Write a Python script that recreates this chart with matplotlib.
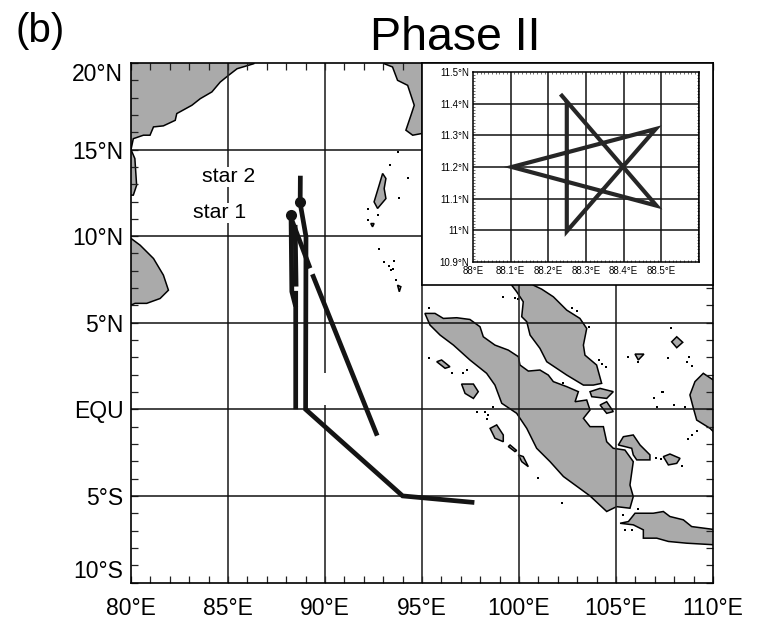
import matplotlib
matplotlib.use("Agg")
import matplotlib.pyplot as plt
from matplotlib.patches import Polygon

plt.rcParams['font.family'] = ['Liberation Sans', 'DejaVu Sans']

W, H = 759, 623
LAND = '#aaaaaa'
TRACK = '#141414'

# coastlines, lon/lat
india = [(79.5, 12.37), (80.12, 12.37), (80.29, 12.94), (80.2, 14.48), (80, 15), (80.12, 15.63),
         (80.64, 15.83), (80.98, 15.83), (81.16, 16.31), (81.67, 16.37), (82.28, 16.69), (82.36, 17.08),
         (83.14, 17.56), (83.57, 17.94), (84.17, 18.33), (84.6, 18.9), (85.03, 19.29), (85.47, 19.67),
         (86.33, 19.96), (86.5, 20.5), (79.5, 20.5)]
sri_lanka = [(80, 9.87), (80.47, 9.48), (81.16, 8.71), (81.67, 7.75), (81.93, 6.88), (81.5, 6.4),
             (80.81, 6.12), (80.21, 6.12), (80, 6.02), (79.5, 6.02), (79.5, 9.87)]
mainland = [(93.05, 19.96), (93.48, 19.77), (93.74, 19.0), (94.26, 18.71), (94.6, 17.56), (94.43, 16.98),
            (94.17, 16.12), (94.52, 15.83), (94.95, 15.92), (97, 16), (98, 14), (98.7, 11), (98.5, 9),
            (99.62, 7.17), (99.88, 6.79), (100.22, 6.21), (100.14, 5.35), (100.4, 5.06), (100.57, 4.29),
            (101.08, 3.52), (101.43, 2.75), (102.46, 1.98), (103.32, 1.4), (103.83, 1.4), (104.26, 1.5),
            (104.0, 2.56), (103.4, 3.13), (103.32, 3.71), (103.49, 4.67), (103.14, 5.25), (102.46, 5.73),
            (101.77, 6.5), (101.17, 6.94), (100.74, 7.17), (102, 12), (100, 20.5), (93, 20.5)]
sumatra = [(95.15, 5.54), (95.67, 5.54), (96.1, 5.25), (96.79, 5.29), (97.47, 5.19), (97.99, 4.77),
           (98.16, 4.19), (98.76, 3.71), (99.45, 3.42), (99.97, 3.04), (100.05, 2.56), (100.48, 2.21),
           (101.08, 2.27), (101.51, 1.98), (101.77, 1.6), (102.46, 1.31), (103.06, 1.02), (102.89, 0.44),
           (103.49, 0.54), (103.66, -0.04), (103.32, -0.52), (103.66, -1.0), (104.35, -1.0), (104.52, -1.87),
           (104.86, -2.25), (105.46, -2.35), (105.89, -3.02), (105.72, -4.37), (105.89, -5.04), (105.72, -5.71),
           (105.03, -5.62), (104.52, -5.9), (103.66, -5.0), (102.29, -3.88), (101.6, -3.02), (100.91, -2.25),
           (100.4, -1.1), (99.88, -0.23), (99.11, 0.35), (98.76, 1.4), (98.33, 2.08), (97.47, 2.85),
           (96.62, 3.71), (95.93, 4.29), (95.41, 4.87)]
java = [(105.21, -6.58), (105.64, -6.48), (105.98, -6.0), (106.92, -6.0), (107.44, -5.9), (107.78, -6.19),
        (108.47, -6.38), (108.9, -6.77), (110.2, -6.96), (110.2, -7.83), (108.64, -7.73), (107.7, -7.63),
        (107.1, -7.44), (106.41, -7.44), (106.41, -6.96), (105.89, -6.67)]
borneo = [(110.02, 1.69), (109.5, 2.08), (109.07, 1.6), (108.81, 0.83), (108.99, 0.06), (109.16, -0.62),
          (109.85, -1.1), (110.02, -1.29), (110.5, -1.3), (110.5, 1.7)]
bangka = [(105.12, -2.06), (105.38, -1.58), (105.89, -1.48), (106.24, -2.06), (106.75, -2.63), (106.75, -2.92),
          (106.07, -2.92), (105.89, -2.63), (105.81, -2.25), (105.46, -2.15)]
belitung = [(107.44, -2.73), (107.78, -2.58), (108.3, -2.83), (108.13, -3.12), (107.7, -3.21)]
nias = [(98.51, -1.1), (98.85, -0.9), (99.19, -1.48), (99.19, -1.87), (98.76, -1.67)]
siberut = [(99.54, -2.06), (99.88, -2.38), (99.79, -2.44), (99.45, -2.15)]
sipora = [(99.97, -2.63), (100.22, -2.73), (100.48, -3.31), (100.14, -3.02)]
simeulue = [(95.76, 2.75), (96.01, 2.85), (96.44, 2.46), (96.19, 2.37)]
batu = [(97.04, 1.46), (97.65, 1.46), (97.9, 1.02), (97.65, 0.63), (97.22, 0.92)]
riau = [(103.66, 1.02), (104.18, 1.21), (104.86, 1.02), (104.52, 0.63), (103.75, 0.73)]
lingga = [(104.18, 0.25), (104.52, 0.44), (104.86, -0.13), (104.52, -0.23)]
natuna = [(107.87, 3.9), (108.13, 4.19), (108.44, 3.87), (108.13, 3.56)]
anambas = [(105.98, 3.19), (106.44, 3.19), (106.15, 2.85)]
andaman = [(92.97, 13.62), (93.14, 13.33), (93.05, 12.75), (93.14, 12.17), (92.71, 11.6), (92.53, 11.98), (92.79, 12.94)]
little_andaman = [(92.36, 10.73), (92.53, 10.73), (92.45, 10.54)]
nicobar = [(93.74, 7.17), (93.91, 7.08), (93.83, 6.79)]
land_polys = [india, sri_lanka, mainland, sumatra, java, borneo, bangka, belitung, nias, siberut, sipora,
              simeulue, batu, riau, lingga, natuna, anambas, andaman, little_andaman, nicobar]

islet_lon = [95.36, 95.36, 96.56, 97.13, 97.3, 99.19, 99.79, 99.95, 102.71, 102.97, 103.61, 104.12, 104.26, 104.48,
             107.84, 107.66, 108.64, 108.78, 108.9, 105.64, 106.15, 107.35, 107.43, 106.98, 107.13, 108.0, 108.56,
             108.73, 108.9, 109.16, 107.06, 107.3, 108.38, 100.96, 102.2, 105.46, 105.81, 105.38, 106.15, 97.82,
             98.25, 98.42, 98.33, 98.68, 102.29, 93.74, 93.36, 94.26, 93.83, 92.24, 92.22, 92.71, 92.76, 93.05,
             93.31, 93.57, 93.48, 93.4, 93.66]
islet_lat = [5.83, 2.98, 2.08, 2.08, 2.27, 6.5, 6.44, 6.4, 5.87, 5.67, 4.77, 2.85, 2.6, 2.46,
             4.71, 2.94, 2.71, 3.04, 2.52, 3.04, 2.75, 1.02, 0.98, 0.67, 0.13, 0.25, 0.13,
             -1.71, -1.48, -1.23, -2.83, -2.87, -3.27, -3.98, -5.42, -6.96, -6.96, -6.1, -5.75, -0.13,
             -0.13, -0.33, -0.58, 0.13, 1.5, 14.87, 14.1, 13.38, 12.23, 11.56, 10.92, 11.25, 9.27, 8.48,
             8.27, 8.56, 8.13, 8.04, 7.46]

# ship tracks, nan = break in the track
nan = float('nan')
track_a_lon = [88.49, 88.49, 88.29, 88.25]
track_a_lat = [0, 5.93, 6.8, 11.14]
track_a2_lon = [88.49, 88.49, nan, 88.51, 88.46]
track_a2_lat = [5.93, 6.84, nan, 7.09, 10.65]
track_b_lon = [97.7, 94.0, 89.0, 89.02, 88.72, 88.73]
track_b_lat = [-5.38, -5.0, 0, 9.98, 11.9, 13.49]
track_c_lon = [92.69, 89.35, nan, 89.23, 88.3]
track_c_lat = [-1.52, 7.8, nan, 8.15, 10.9]
star_centre_lon = [88.25, 88.7]
star_centre_lat = [11.2, 11.97]

# star pattern in the inset
star_lon = [88.236, 88.487, 88.103, 88.485, 88.249, 88.249]
star_lat = [11.425, 11.078, 11.2, 11.32, 10.997, 11.4]

x_ticks = [80, 85, 90, 95, 100, 105, 110]
x_labels = ['80°E', '85°E', '90°E', '95°E', '100°E', '105°E', '110°E']
y_ticks = [20, 15, 10, 5, 0, -5, -10]
y_labels = ['20°N', '15°N', '10°N', '5°N', 'EQU', '5°S', '10°S']
inset_x = [88, 88.1, 88.2, 88.3, 88.4, 88.5]
inset_x_labels = ['88°E', '88.1°E', '88.2°E', '88.3°E', '88.4°E', '88.5°E']
inset_y = [10.9, 11, 11.1, 11.2, 11.3, 11.4, 11.5]
inset_y_labels = ['10.9°N', '11°N', '11.1°N', '11.2°N', '11.3°N', '11.4°N', '11.5°N']


def axes_px(fig, left, top, right, bottom):
    return fig.add_axes([left / W, 1 - bottom / H, (right - left) / W, (bottom - top) / H])


fig = plt.figure(figsize=(W / 100, H / 100), dpi=100)
ax = axes_px(fig, 131, 63, 713, 582.5)
ax.set_xlim(80, 110)
ax.set_ylim(-10, 20)

for poly in land_polys:
    ax.add_patch(Polygon(poly, closed=True, facecolor=LAND, edgecolor='black', linewidth=1.1, zorder=1))
ax.plot(islet_lon, islet_lat, ls='none', marker='s', ms=2.0, color='black', mew=0, zorder=1.5)

# grid
ax.vlines([85, 95, 100, 105], -10, 20, color='#2a2a2a', lw=1.2, zorder=2)
ax.vlines(90, 2.08, 20, color='#2a2a2a', lw=1.2, zorder=2)
ax.vlines(90, -10, 0.25, color='#2a2a2a', lw=1.2, zorder=2)
ax.hlines([15, 10, 5, 0, -5], 80, 110, color='#111111', lw=1.1, zorder=2)

for lon, lat in [(track_a_lon, track_a_lat), (track_a2_lon, track_a2_lat),
                 (track_b_lon, track_b_lat), (track_c_lon, track_c_lat)]:
    ax.plot(lon, lat, color=TRACK, lw=3.4, solid_capstyle='butt', solid_joinstyle='miter', zorder=3)
ax.plot(star_centre_lon, star_centre_lat, ls='none', marker='o', ms=8, color=TRACK, mew=0, zorder=3)

ax.text(85.05, 13.42, 'star 2', fontsize=15.3, ha='center', va='center', zorder=2.5,
        bbox=dict(facecolor='white', edgecolor='none', pad=0.5))
ax.text(84.54, 11.34, 'star 1', fontsize=15.3, ha='center', va='center', zorder=2.5,
        bbox=dict(facecolor='white', edgecolor='none', pad=0.5))

ax.set_xticks(x_ticks, x_labels, fontsize=16.5)
ax.set_yticks(y_ticks, y_labels, fontsize=16.5)
ax.set_xticks(range(80, 111), minor=True)
ax.set_yticks(range(-10, 21), minor=True)
ax.tick_params(which='both', direction='in', top=True, right=True, length=5, width=0.9, color='#222222')
ax.tick_params(axis='x', which='major', pad=10.5)
ax.tick_params(axis='y', which='major', pad=5.5)
ax.get_yticklabels()[0].set_va('top')
ax.get_yticklabels()[-1].set_va('bottom')
for s in ax.spines.values():
    s.set_linewidth(1.2)

fig.text(455 / W, 1 - 38 / H, 'Phase II', fontsize=33.5, ha='center', va='center')
fig.text(16 / W, 1 - 31 / H, '(b)', fontsize=29, ha='left', va='center')

# inset box on top of the map
box = axes_px(fig, 422, 63, 713, 285)
box.set_xticks([])
box.set_yticks([])
box.set_facecolor('white')
box.set_zorder(5)
for s in box.spines.values():
    s.set_linewidth(1.2)

inset = axes_px(fig, 473, 72, 699, 262)
inset.set_zorder(6)
inset.set_xlim(88, 88.6)
inset.set_ylim(10.9, 11.5)
inset.vlines(inset_x[1:] + [88.6], 10.9, 11.5, color='#111111', lw=1.1, zorder=1)
inset.hlines(inset_y[1:-1], 88, 88.6, color='#111111', lw=1.1, zorder=1)
inset.plot(star_lon, star_lat, color='#262626', lw=3.0, solid_joinstyle='miter', zorder=2)
inset.set_xticks(inset_x, inset_x_labels, fontsize=7)
inset.set_yticks(inset_y, inset_y_labels, fontsize=7)
inset.set_xticks([88 + i * 0.01 for i in range(61)], minor=True)
inset.set_yticks([10.9 + i * 0.01 for i in range(61)], minor=True)
inset.tick_params(which='major', direction='in', top=True, right=True, length=0, pad=3)
inset.tick_params(which='minor', direction='in', top=True, right=True, length=1.2, width=0.4)
for s in inset.spines.values():
    s.set_linewidth(1.1)

fig.savefig('out.png', dpi=100)
